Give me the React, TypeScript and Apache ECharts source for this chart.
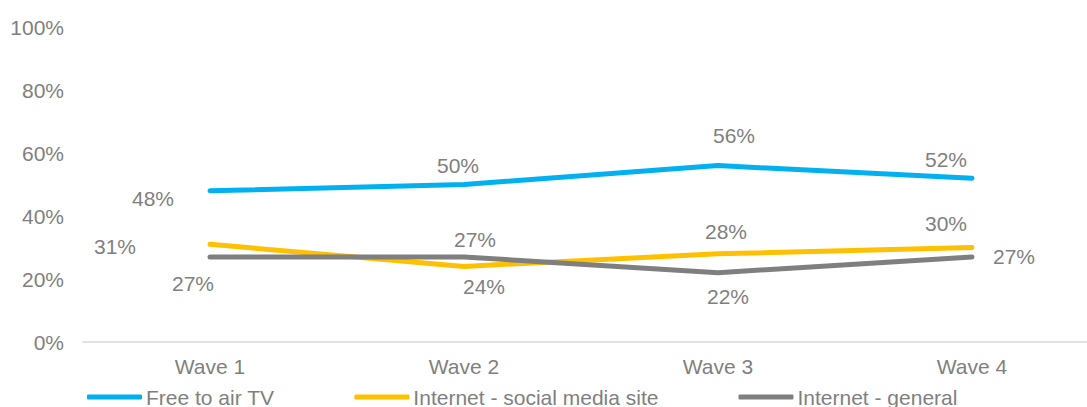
import React, { useEffect, useRef } from "react";
import * as echarts from "echarts";

const categories = ["Wave 1", "Wave 2", "Wave 3", "Wave 4"];
const seriesNames = ["Free to air TV", "Internet - social media site", "Internet - general"];
const freeToAir = [48, 50, 56, 52];
const socialMedia = [31, 24, 28, 30];
const internetGeneral = [27, 27, 22, 27];
const yTicks = [0, 20, 40, 60, 80, 100];

// label offsets (px, relative to the point) per series
const freeToAirLabelOffsets = [[-57, 8], [-6, -19], [16, -30], [-26, -19]];
const socialLabelOffsets = [[-95, 2], [20, 20], [8, -22], [-26, -24]];
const generalLabelOffsets = [[-17, 27], [11, -17], [10, 24], [42, 0]];

const colors = ["#00B0F0", "#FFC000", "#7F7F7F"];
const textColor = "#7F7F7F";
const font = "'Liberation Sans', Arial, sans-serif";

export default function App() {
  const ref = useRef<HTMLDivElement>(null);
  useEffect(() => {
    if (!ref.current) return;
    const chart = echarts.init(ref.current, undefined, { renderer: "svg" });
    const mk = (name: string, values: number[], offsets: number[][], color: string) => ({
      name,
      type: "line",
      data: values.map((v, i) => ({
        value: v,
        label: { offset: offsets[i] },
      })),
      symbol: "circle",
      symbolSize: 1,
      showSymbol: true,
      itemStyle: { color },
      lineStyle: { color, width: 5, cap: "round", join: "round" },
      label: {
        show: true,
        position: "inside",
        align: "center",
        verticalAlign: "middle",
        color: textColor,
        fontSize: 21,
        fontFamily: font,
        formatter: (p: any) => p.value + "%",
      },
      emphasis: { disabled: true },
    });
    chart.setOption({
      animation: false,
      grid: { left: 83, top: 27, width: 1016, height: 315, outerBoundsMode: "none", containLabel: false },
      legend: {
        left: 87,
        top: 385,
        padding: 0,
        icon: "roundRect",
        itemWidth: 55,
        itemHeight: 5,
        itemGap: 80,
        data: seriesNames,
        textStyle: { color: textColor, fontSize: 21, fontFamily: font, padding: [0, 0, 0, -1], lineHeight: 24 },
      },
      xAxis: {
        type: "category",
        data: categories,
        boundaryGap: true,
        axisLine: { lineStyle: { color: "#D9D9D9", width: 1.5 } },
        axisTick: { show: false },
        axisLabel: { color: textColor, fontSize: 21, fontFamily: font, margin: 14 },
      },
      yAxis: {
        type: "value",
        min: yTicks[0],
        max: yTicks[yTicks.length - 1],
        interval: 20,
        axisLine: { show: false },
        axisTick: { show: false },
        splitLine: { show: false },
        axisLabel: { color: textColor, fontSize: 21, fontFamily: font, margin: 19, formatter: "{value}%" },
      },
      series: [
        mk(seriesNames[0], freeToAir, freeToAirLabelOffsets, colors[0]),
        mk(seriesNames[1], socialMedia, socialLabelOffsets, colors[1]),
        mk(seriesNames[2], internetGeneral, generalLabelOffsets, colors[2]),
      ],
    });
    return () => chart.dispose();
  }, []);
  return <div ref={ref} style={{ width: 1087, height: 407, position: "absolute", left: 0, top: 0 }} />;
}
